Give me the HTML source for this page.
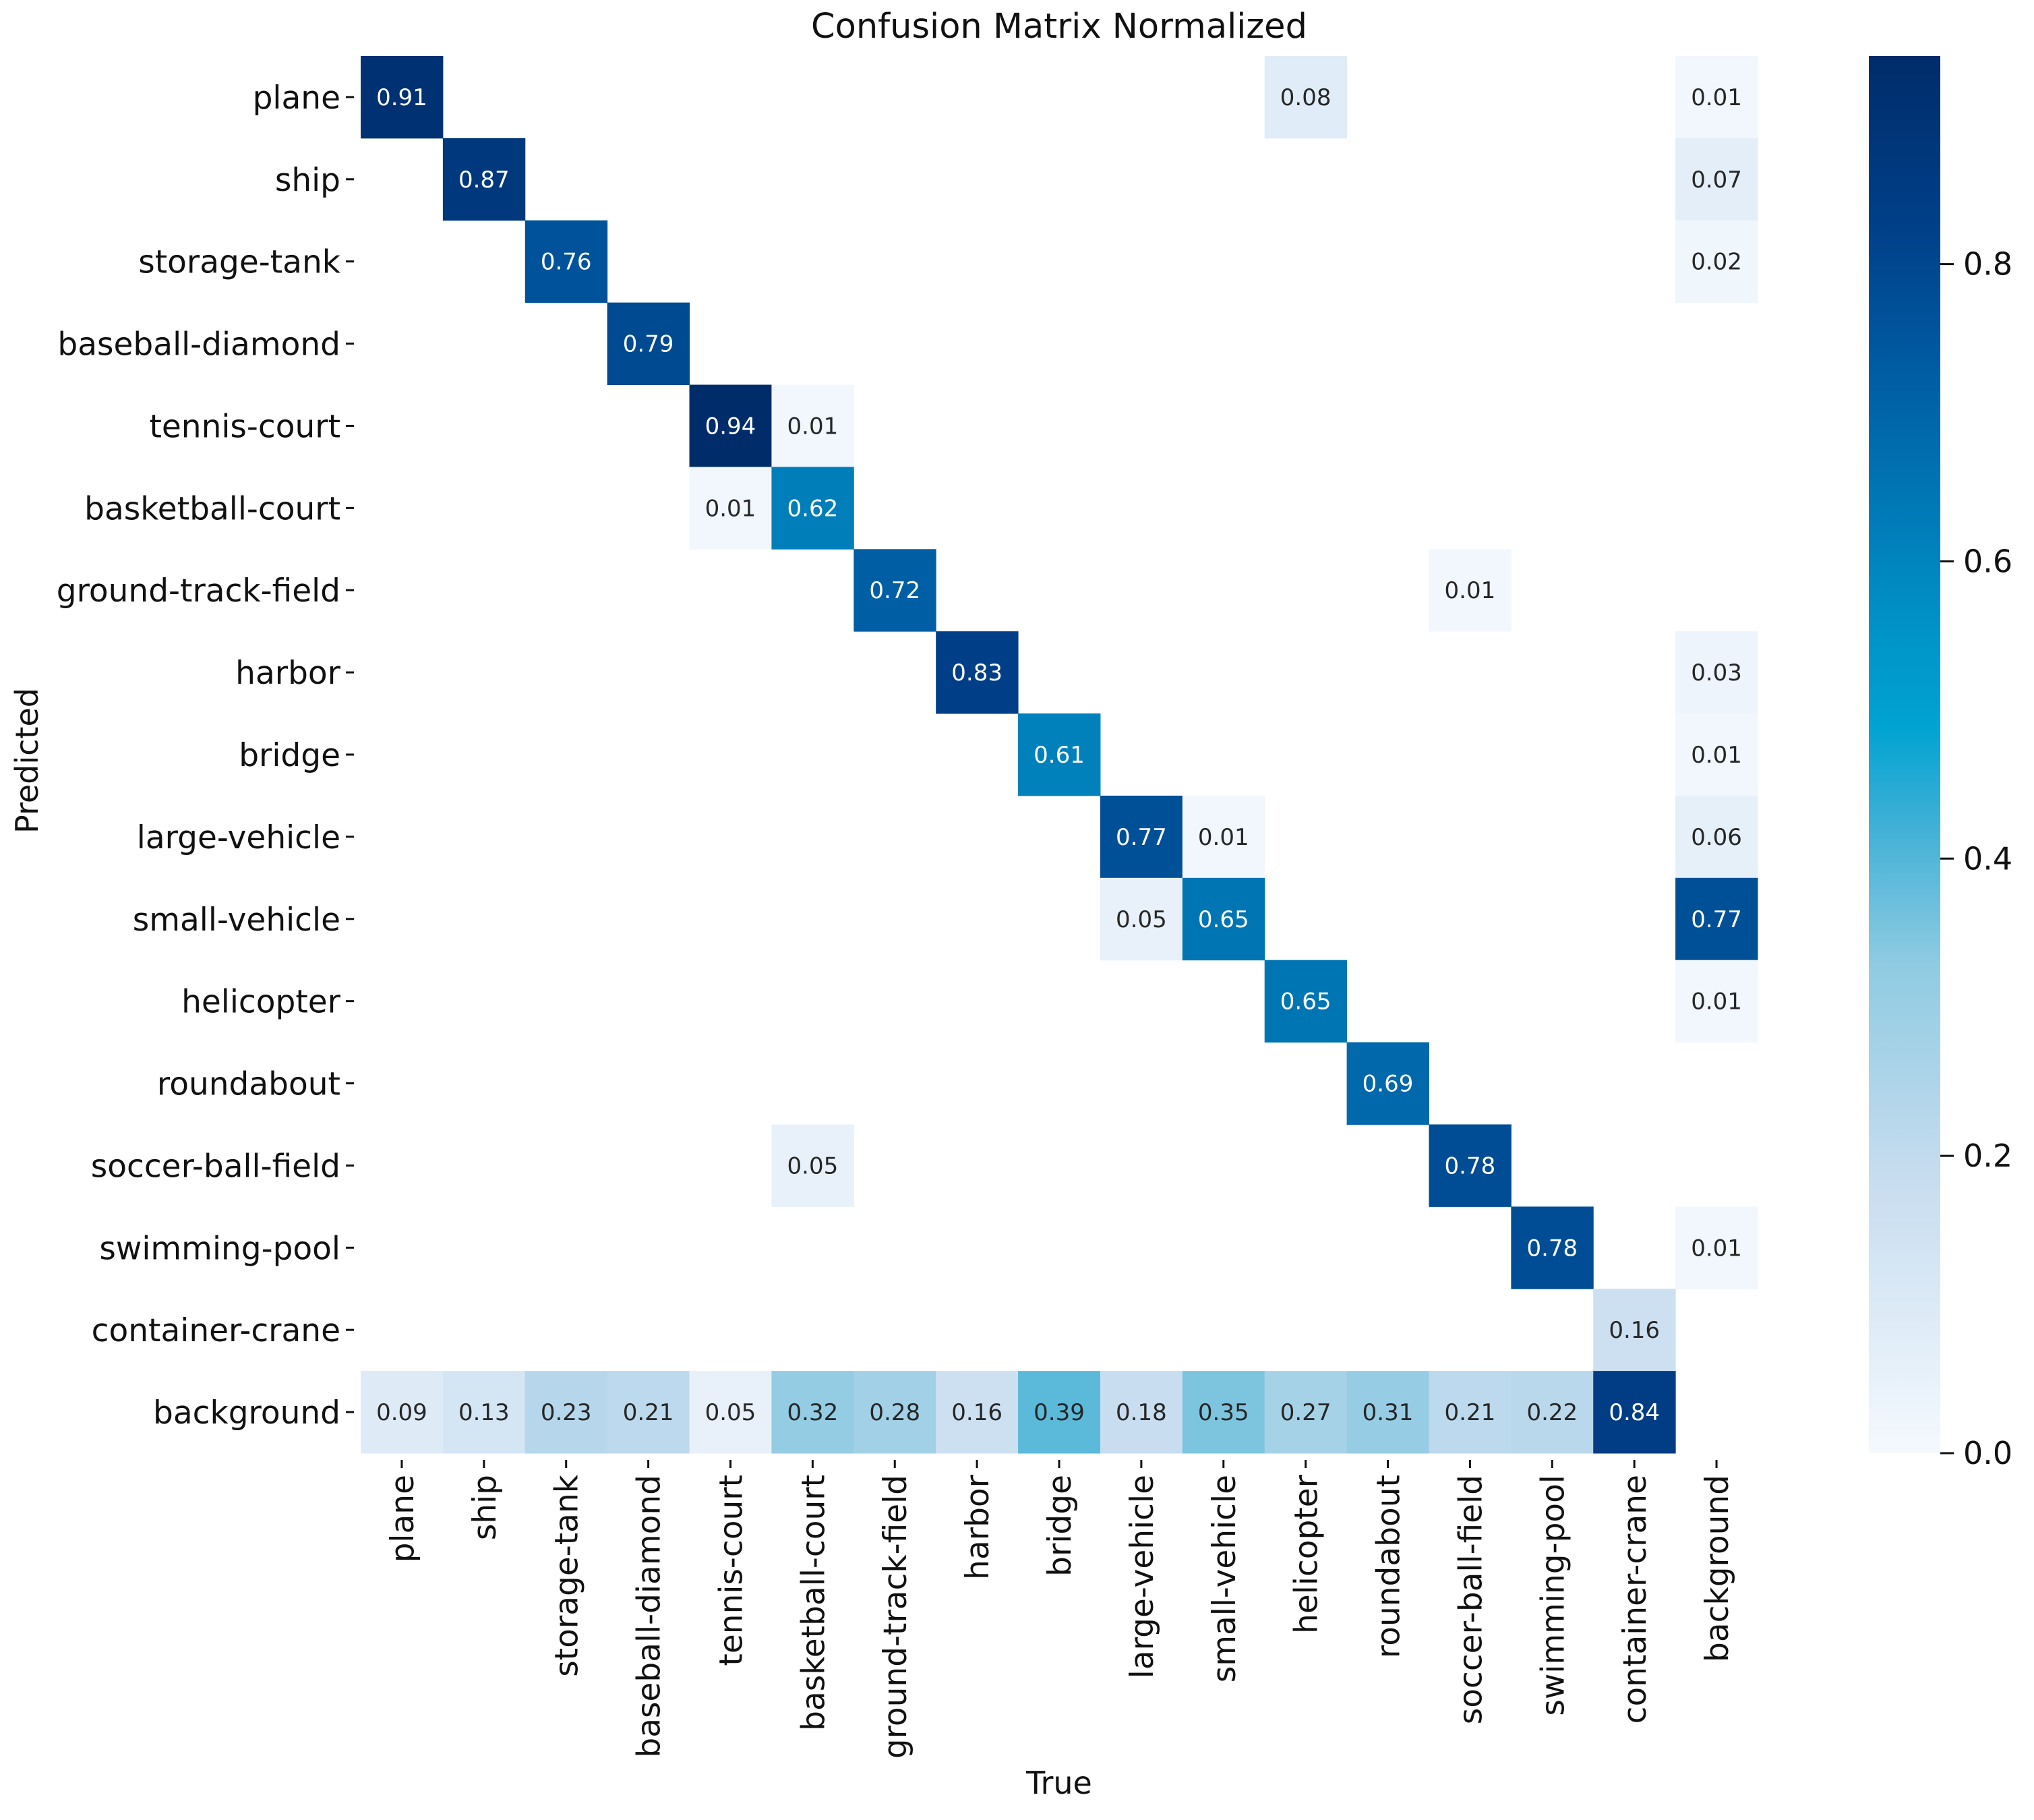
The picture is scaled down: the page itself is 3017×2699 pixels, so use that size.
<!DOCTYPE html>
<html><head><meta charset="utf-8"><style>
html,body{margin:0;padding:0;background:#fff;}
svg{display:block;font-family:"DejaVu Sans","Liberation Sans",sans-serif;}
</style></head><body>
<svg id="chart" width="3017" height="2699" viewBox="0 0 3017 2699" xmlns="http://www.w3.org/2000/svg">
<text x="1571" y="56" font-size="51" text-anchor="middle" fill="#111">Confusion Matrix Normalized</text>
<text transform="translate(56,1128) rotate(-90)" font-size="46" text-anchor="middle" fill="#111">Predicted</text>
<text x="1571" y="2660" font-size="46" text-anchor="middle" fill="#111">True</text>
<g id="cells"></g>
<g id="ylabels"></g>
<g id="xlabels"></g>
<defs><linearGradient id="cbgrad" x1="0" y1="1" x2="0" y2="0"></linearGradient></defs>
<rect x="2772" y="83" width="106" height="2072" fill="url(#cbgrad)"/>
<g id="cbticks"></g>
</svg>
<script>
const categories=["plane","ship","storage-tank","baseball-diamond","tennis-court","basketball-court","ground-track-field","harbor","bridge","large-vehicle","small-vehicle","helicopter","roundabout","soccer-ball-field","swimming-pool","container-crane","background"];
const row0=[0.91,0,0,0,0,0,0,0,0,0,0,0.08,0,0,0,0,0.01];
const row1=[0,0.87,0,0,0,0,0,0,0,0,0,0,0,0,0,0,0.07];
const row2=[0,0,0.76,0,0,0,0,0,0,0,0,0,0,0,0,0,0.02];
const row3=[0,0,0,0.79,0,0,0,0,0,0,0,0,0,0,0,0,0];
const row4=[0,0,0,0,0.94,0.01,0,0,0,0,0,0,0,0,0,0,0];
const row5=[0,0,0,0,0.01,0.62,0,0,0,0,0,0,0,0,0,0,0];
const row6=[0,0,0,0,0,0,0.72,0,0,0,0,0,0,0.01,0,0,0];
const row7=[0,0,0,0,0,0,0,0.83,0,0,0,0,0,0,0,0,0.03];
const row8=[0,0,0,0,0,0,0,0,0.61,0,0,0,0,0,0,0,0.01];
const row9=[0,0,0,0,0,0,0,0,0,0.77,0.01,0,0,0,0,0,0.06];
const row10=[0,0,0,0,0,0,0,0,0,0.05,0.65,0,0,0,0,0,0.77];
const row11=[0,0,0,0,0,0,0,0,0,0,0,0.65,0,0,0,0,0.01];
const row12=[0,0,0,0,0,0,0,0,0,0,0,0,0.69,0,0,0,0];
const row13=[0,0,0,0,0,0.05,0,0,0,0,0,0,0,0.78,0,0,0];
const row14=[0,0,0,0,0,0,0,0,0,0,0,0,0,0,0.78,0,0.01];
const row15=[0,0,0,0,0,0,0,0,0,0,0,0,0,0,0,0.16,0];
const row16=[0.09,0.13,0.23,0.21,0.05,0.32,0.28,0.16,0.39,0.18,0.35,0.27,0.31,0.21,0.22,0.84,0];
const matrix=[row0,row1,row2,row3,row4,row5,row6,row7,row8,row9,row10,row11,row12,row13,row14,row15,row16];
const cbTicks=[0.0,0.2,0.4,0.6,0.8];
const vmax=0.94;

const X0=535,X1=2607,Y0=83,Y1=2155,n=categories.length;
const cw=(X1-X0)/n,ch=(Y1-Y0)/n;
const xPos=i=>X0+i*cw, yPos=i=>Y0+i*ch;
const cbY=v=>Y1-(v/vmax)*(Y1-Y0);
const stops=[[0,[244,249,254]],[0.2,[198,220,239]],[0.35,[143,203,226]],[0.45,[63,176,214]],[0.52,[0,163,210]],[0.6,[0,144,198]],[0.7,[0,114,178]],[0.8,[0,85,157]],[0.88,[0,63,136]],[1,[0,44,106]]];
function color(v){
  let t=Math.max(0,Math.min(1,v/vmax));
  for(let k=1;k<stops.length;k++){
    if(t<=stops[k][0]){
      const a=stops[k-1],b=stops[k],f=(t-a[0])/(b[0]-a[0]);
      const c=a[1].map((x,j)=>Math.round(x+(b[1][j]-x)*f));
      return `rgb(${c[0]},${c[1]},${c[2]})`;
    }
  }
  return 'rgb(0,44,106)';
}
const NS="http://www.w3.org/2000/svg";
const mk=(tag,attrs,parent)=>{const e=document.createElementNS(NS,tag);for(const k in attrs)e.setAttribute(k,attrs[k]);parent.appendChild(e);return e;};
const cells=document.getElementById('cells');
matrix.forEach((row,r)=>{
  row.forEach((v,c)=>{
    if(v<=0)return;
    const rect=mk('rect',{x:xPos(c),y:yPos(r),width:cw+0.5,height:ch+0.5,fill:color(v)},cells);
    
    
    const t=mk('text',{x:xPos(c)+cw/2,y:yPos(r)+ch/2+12,'font-size':34,'text-anchor':'middle',fill:v>0.47?'#fff':'#262626'},cells);
    
    
    t.textContent=v.toFixed(2);
  });
});
const yl=document.getElementById('ylabels'),xl=document.getElementById('xlabels');
categories.forEach((name,i)=>{
  const cy=yPos(i)+ch/2;
  const t=mk('text',{x:X0-30,y:cy+17,'font-size':47,'text-anchor':'end',fill:'#111'},yl);
  
  
  t.textContent=name;
  const tk=mk('line',{x1:X0-22,x2:X0-10,y1:cy,y2:cy,stroke:'#111','stroke-width':3},yl);
  
  
  const cx=xPos(i)+cw/2;
  const xt=mk('text',{transform:`translate(${cx+17},${Y1+32}) rotate(-90)`,'font-size':47,'text-anchor':'end',fill:'#111'},xl);
  
  
  xt.textContent=name;
  const xk=mk('line',{x1:cx,x2:cx,y1:Y1+10,y2:Y1+22,stroke:'#111','stroke-width':3},xl);
  
  
});
const grad=document.getElementById('cbgrad');
stops.forEach(s=>{mk('stop',{offset:s[0],'stop-color':`rgb(${s[1].join(',')})`},grad);});
const cbt=document.getElementById('cbticks');
cbTicks.forEach(v=>{
  const y=cbY(v);
  const l=mk('line',{x1:2878,x2:2898,y1:y,y2:y,stroke:'#111','stroke-width':3},cbt);
  
  
  const t=mk('text',{x:2912,y:y+16,'font-size':46,fill:'#111'},cbt);
  
  
  t.textContent=v.toFixed(1);
});
</script>
</body></html>
